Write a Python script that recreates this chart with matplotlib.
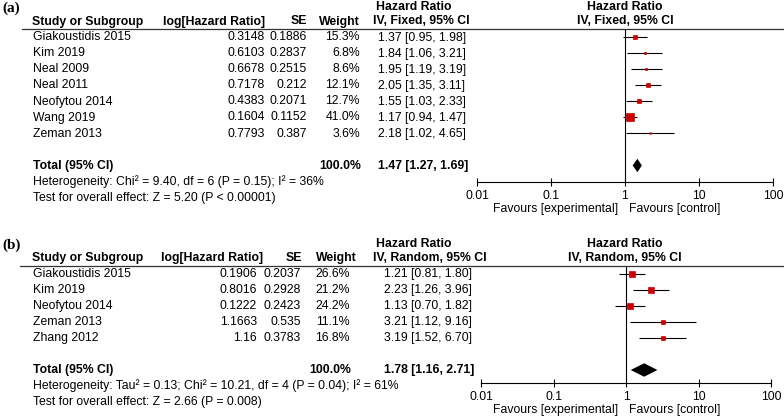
import numpy as np
import matplotlib
matplotlib.use("Agg")
import matplotlib.pyplot as plt
import matplotlib.transforms as mtransforms

plt.rcParams['font.family'] = ['Liberation Sans', 'DejaVu Sans']
FS = 8.8

# ---- panel (a): fixed effect ----
a_study = ["Giakoustidis 2015", "Kim 2019", "Neal 2009", "Neal 2011",
           "Neofytou 2014", "Wang 2019", "Zeman 2013"]
a_loghr = [0.3148, 0.6103, 0.6678, 0.7178, 0.4383, 0.1604, 0.7793]
a_se = [0.1886, 0.2837, 0.2515, 0.212, 0.2071, 0.1152, 0.387]
a_weight = [15.3, 6.8, 8.6, 12.1, 12.7, 41.0, 3.6]
a_hr = [1.37, 1.84, 1.95, 2.05, 1.55, 1.17, 2.18]
a_lo = [0.95, 1.06, 1.19, 1.35, 1.03, 0.94, 1.02]
a_hi = [1.98, 3.21, 3.19, 3.11, 2.33, 1.47, 4.65]
a_total = (1.47, 1.27, 1.69)
a_het = "Heterogeneity: Chi² = 9.40, df = 6 (P = 0.15); I² = 36%"
a_test = "Test for overall effect: Z = 5.20 (P < 0.00001)"

# ---- panel (b): random effects ----
b_study = ["Giakoustidis 2015", "Kim 2019", "Neofytou 2014", "Zeman 2013", "Zhang 2012"]
b_loghr = [0.1906, 0.8016, 0.1222, 1.1663, 1.16]
b_se = [0.2037, 0.2928, 0.2423, 0.535, 0.3783]
b_weight = [26.6, 21.2, 24.2, 11.1, 16.8]
b_hr = [1.21, 2.23, 1.13, 3.21, 3.19]
b_lo = [0.81, 1.26, 0.70, 1.12, 1.52]
b_hi = [1.80, 3.96, 1.82, 9.16, 6.70]
b_total = (1.78, 1.16, 2.71)
b_het = "Heterogeneity: Tau² = 0.13; Chi² = 10.21, df = 4 (P = 0.04); I² = 61%"
b_test = "Test for overall effect: Z = 2.66 (P = 0.008)"

tick_vals = [0.01, 0.1, 1, 10, 100]
tick_labels = ["0.01", "0.1", "1", "10", "100"]

W, H = 784, 419
fig = plt.figure(figsize=(W / 100, H / 100), dpi=100)
bg = fig.add_axes([0, 0, 1, 1])
bg.set_xlim(0, W)
bg.set_ylim(H, 0)
bg.axis('off')

RED = '#cc0000'


def panel(tag, method, study, loghr, se, weight, hr, lo, hi, total, het, test,
          row0, ax_bottom, x_left, x_right, cols, line_x0):
    step = 16.0
    top = row0 - 7.5
    ax = fig.add_axes([x_left / W, 1 - ax_bottom / H, (x_right - x_left) / W,
                       (ax_bottom - top) / H])
    ax.patch.set_visible(False)
    ax.set_xscale('log')
    ax.set_xlim(0.01, 100)
    ax.set_ylim((ax_bottom - row0) / step, (top - row0) / step)
    for s in ['left', 'top', 'right']:
        ax.spines[s].set_visible(False)
    ax.spines['bottom'].set_linewidth(0.8)
    ax.set_yticks([])
    ax.set_xticks(tick_vals, tick_labels)
    ax.minorticks_off()
    ax.tick_params(axis='x', direction='inout', length=6, width=0.8,
                   labelsize=FS, pad=3)
    ax.axvline(1, color='black', lw=0.8)

    n = len(study)
    rows = np.arange(n)
    ax.hlines(rows, lo, hi, color='black', lw=0.8)
    # square side grows with study weight
    sizes = 0.55 * np.array(weight) ** 0.75 * 0.72
    for r, h, s in zip(rows, hr, sizes):
        ax.plot(h, r, marker='s', ms=s, color=RED, mec=RED, mew=0.5, ls='none')
    trow = n + 1
    est, tlo, thi = total
    ax.fill([tlo, est, thi, est], [trow, trow - 0.42, trow, trow + 0.42],
            color='black', lw=0)

    tr = mtransforms.blended_transform_factory(bg.transData, ax.transData)
    c_study, c_log, c_se, c_w, c_hr, c_hrv = cols
    kw = dict(transform=tr, fontsize=FS, va='center')
    bkw = dict(kw, fontweight='bold')
    bg.text(2, -1.8, tag, transform=tr, fontsize=11, va='center',
            fontweight='bold', family='Liberation Serif')
    bg.text(c_hr, -1.9, "Hazard Ratio", ha='left', **bkw)
    bg.text(625, -1.9, "Hazard Ratio", ha='center', **bkw)
    bg.text(c_study, -1, "Study or Subgroup", ha='left', **bkw)
    bg.text(c_log[0], -1, "log[Hazard Ratio]", ha='right', **bkw)
    bg.text(c_se[0], -1, "SE", ha='right', **bkw)
    bg.text(c_w[0], -1, "Weight", ha='right', **bkw)
    bg.text(c_hr - 3, -1, "IV, %s, 95%% CI" % method, ha='left', **bkw)
    bg.text(625, -1, "IV, %s, 95%% CI" % method, ha='center', **bkw)
    bg.plot([line_x0, W], [-0.5, -0.5], color='#333333', lw=0.9, transform=tr)

    for i in range(n):
        bg.text(c_study + 1, i, study[i], ha='left', **kw)
        bg.text(c_log[1], i, "%g" % loghr[i], ha='right', **kw)
        bg.text(c_se[1], i, "%g" % se[i], ha='right', **kw)
        bg.text(c_w[1], i, "%.1f%%" % weight[i], ha='right', **kw)
        bg.text(c_hrv, i, "%.2f [%.2f, %.2f]" % (hr[i], lo[i], hi[i]),
                ha='left', **kw)
    bg.text(c_study + 1, trow, "Total (95% CI)", ha='left', **bkw)
    bg.text(c_w[1] + 1, trow, "100.0%", ha='right', **bkw)
    bg.text(c_hrv, trow, "%.2f [%.2f, %.2f]" % total, ha='left', **bkw)
    bg.text(c_study + 1, trow + 1, het, ha='left', **kw)
    bg.text(c_study + 1, trow + 2, test, ha='left', **kw)

    fav = (ax_bottom + 27 - row0) / step
    bg.text(618, fav, "Favours [experimental]", ha='right', **kw)
    bg.text(629, fav, "Favours [control]", ha='left', **kw)
    return ax


panel("(a)", "Fixed", a_study, a_loghr, a_se, a_weight, a_hr, a_lo, a_hi,
      a_total, a_het, a_test, row0=37.5, ax_bottom=182, x_left=477, x_right=773,
      cols=(32, (265, 265), (307, 307), (360, 360), 376, 378), line_x0=22)
panel("(b)", "Random", b_study, b_loghr, b_se, b_weight, b_hr, b_lo, b_hi,
      b_total, b_het, b_test, row0=274, ax_bottom=383, x_left=481, x_right=771,
      cols=(32, (263, 257), (302, 301), (357, 350), 376, 384), line_x0=20)

fig.savefig("out.png", dpi=100)
